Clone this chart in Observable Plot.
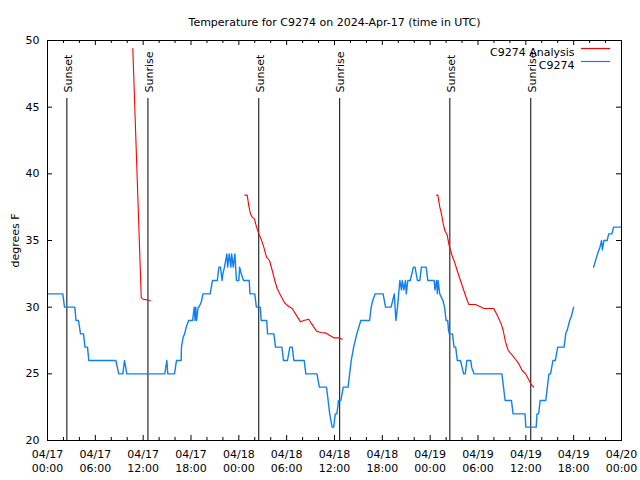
<!DOCTYPE html>
<html>
<head>
<meta charset="utf-8">
<script src="https://cdn.jsdelivr.net/npm/d3@7"></script>
<script src="https://cdn.jsdelivr.net/npm/@observablehq/plot@0.6"></script>
<style>
  html, body { margin: 0; padding: 0; background: #fff; }
</style>
</head>
<body>
<div id="chart"></div>
<script>
const titleText = "Temperature for C9274 on 2024-Apr-17 (time in UTC)";
const yLabel = "degrees F";
const seriesNames = ["C9274 Analysis", "C9274"];
const seriesColors = ["#ff0000", "#1080f0"];

// hours since 2024-04-17 00:00 UTC
const startUTC = Date.UTC(2024, 3, 17, 0, 0);
const endHours = 72;
const majorTickHours = [0, 6, 12, 18, 24, 30, 36, 42, 48, 54, 60, 66, 72];
const minorTickHours = [2, 4, 8, 10, 14, 16, 20, 22, 26, 28, 32, 34, 38, 40, 44, 46, 50, 52, 56, 58, 62, 64, 68, 70];
const yTicks = [20, 25, 30, 35, 40, 45, 50];

const sunHours = [2.43, 12.6, 26.5, 36.65, 50.47, 60.62];
const sunLabels = ["Sunset", "Sunrise", "Sunset", "Sunrise", "Sunset", "Sunrise"];

// observations (null = gap)
const obsHours = [0,1.92,2.13,3.42,3.58,3.89,4.14,4.52,4.70,5.02,5.18,8.57,8.94,9.45,9.66,9.95,14.71,14.97,15.09,15.93,16.18,16.77,16.8,17.0,17.2,17.4,17.7,18.2,18.4,18.5,18.6,18.7,18.9,19.0,19.3,19.5,20.4,20.7,21.3,21.5,21.7,21.9,22.0,22.2,22.5,22.6,22.8,23.0,23.1,23.3,23.5,23.7,24.0,24.1,24.3,24.6,25.3,25.4,26.0,26.2,26.7,26.8,27.5,27.6,28.4,28.6,29.4,29.6,30.1,30.4,30.7,30.9,32.2,32.4,33.8,34.1,35.0,35.2,35.4,35.7,35.9,36.1,36.3,36.5,36.8,37.1,37.7,37.9,38.1,38.4,38.8,39.3,40.4,40.6,40.8,41.1,42.1,42.4,43.1,43.3,43.5,43.7,43.9,44.2,44.4,44.5,44.7,44.9,45.0,45.2,45.5,45.9,46.1,46.4,46.7,46.9,47.5,47.7,48.5,48.6,48.8,48.9,49.0,49.2,49.6,49.8,50.0,50.2,50.3,50.4,50.8,51.0,51.2,51.4,51.8,52.0,52.2,52.4,52.6,53.1,53.2,53.5,57.0,57.2,57.4,58.2,58.4,59.9,60.0,61.3,61.4,61.6,61.8,62.5,62.7,62.9,63.1,63.4,63.7,64.0,64.8,65.0,65.2,65.5,65.7,66.0,null,68.5,69.0,69.3,69.5,69.6,69.8,70.2,70.4,70.8,71.0,72];
const obsTemps = [31,31,30,30,29,29,28,28,27,27,26,26,25,25,26,25,25,26,25,25,26,26,27,27.7,28,28.5,29,29,30,29,30,29,30,30,30.4,31,31,32,32,33,33,32,32.5,33,34,33,34,33,34,33,34,32,32,33,32.5,32,32,31,31,30,30,29,29,28,28,27,27,26,26,27,27,26,26,25,25,24,24,23,22,21,21,22,22,23,23,24,24,25,26,27,28,29,29,30,30.5,31,31,30,30,30.5,31,29,30,32,31.3,32,31.3,32,31,32,32,33,33,32,32,33,33,32,32,31.3,32,31,32,31,30.5,30,29,29,28.3,28,28,27,27,26,26,25.5,25,25,26,26,25.5,25,25,24,23,23,22,22,21,21,22,22,23,23,24,25,25,26,26,27,27,28,28.3,29,29.3,30,null,33,34,34.5,35,34.3,35,35,35.5,35.5,36,36];

// analysis (null = gap)
const anaHours = [10.7,11.76,12.0,12.9,null,24.75,25.05,25.25,25.46,25.68,25.97,26.22,26.5,26.8,27.13,27.47,27.85,28.19,28.51,28.81,29.23,29.77,30.27,30.69,31.11,31.74,32.15,32.78,33.08,33.74,34.33,34.96,35.37,35.91,36.54,36.97,null,48.8,48.96,49.21,49.42,49.64,49.84,50.14,50.34,50.55,50.84,51.05,51.39,51.8,52.22,52.65,52.85,53.69,54.23,54.73,55.98,56.41,56.91,57.16,57.45,57.79,58.29,58.83,59.12,59.54,59.96,60.37,60.67,61.0];
const anaTemps = [49.4,30.7,30.6,30.5,null,38.4,38.4,37.6,37.0,36.75,36.6,36.0,35.5,35.1,34.5,33.75,33.5,32.75,32.0,31.4,30.9,30.3,30.05,29.9,29.5,28.9,29.0,29.1,28.8,28.2,28.1,28.05,27.9,27.7,27.7,27.6,null,38.4,38.4,37.5,37.0,36.25,35.75,35.4,34.75,34.25,33.7,33.4,32.75,32.0,31.25,30.5,30.2,30.2,30.05,29.9,29.9,29.4,28.75,28.25,27.4,26.75,26.4,26.0,25.75,25.25,25.0,24.55,24.2,24.0];

const toDate = h => (h == null ? null : new Date(startUTC + h * 3600e3));
const obs = obsHours.map((h, i) => ({t: toDate(h), v: obsTemps[i]}));
const ana = anaHours.map((h, i) => ({t: toDate(h), v: anaTemps[i]}));
const sun = sunHours.map((h, i) => ({t: toDate(h), label: sunLabels[i]}));
const majorTicks = majorTickHours.map(toDate);
const minorTicks = minorTickHours.map(toDate);

const fmtDay = d3.utcFormat("%m/%d");
const fmtTime = d3.utcFormat("%H:%M");
const FONT = "DejaVu Sans";

const chart = Plot.plot({
  width: 640,
  height: 480,
  marginLeft: 47,
  marginRight: 19,
  marginTop: 40,
  marginBottom: 40,
  style: {fontFamily: FONT, fontSize: "11px", background: "#fff", color: "#000"},
  x: {type: "utc", domain: [toDate(0), toDate(endHours)], label: null},
  y: {domain: [20, 50], label: null},
  marks: [
    // tick marks (inward, mirrored)
    Plot.ruleX(majorTicks, {x: d => d, insetTop: 395, stroke: "#000"}),
    Plot.ruleX(majorTicks, {x: d => d, insetBottom: 395, stroke: "#000"}),
    Plot.ruleX(minorTicks, {x: d => d, insetTop: 397, stroke: "#000"}),
    Plot.ruleX(minorTicks, {x: d => d, insetBottom: 397, stroke: "#000"}),
    Plot.ruleY(yTicks, {y: d => d, insetRight: 569, stroke: "#000"}),
    Plot.ruleY(yTicks, {y: d => d, insetLeft: 569, stroke: "#000"}),
    Plot.axisX({ticks: majorTicks, tickSize: 0, tickPadding: 7, label: null,
      tickFormat: d => fmtDay(d) + "\n" + fmtTime(d), lineHeight: 1.3,
      fontFamily: FONT, fontSize: 11}),
    Plot.axisY({ticks: yTicks, tickSize: 0, tickPadding: 8, label: yLabel,
      labelAnchor: "center", labelArrow: "none", labelOffset: 36,
      fontFamily: FONT, fontSize: 11}),
    // sunrise / sunset
    Plot.ruleX(sun, {x: "t", insetTop: 58, stroke: "#000"}),
    Plot.text(sun, {x: "t", text: "label", rotate: -90, frameAnchor: "top", dy: 52, dx: -3,
      textAnchor: "start", fontFamily: FONT, fontSize: 11, fill: "#000"}),
    // data
    Plot.line(ana, {x: "t", y: "v", stroke: seriesColors[0], strokeWidth: 1.1}),
    Plot.line(obs, {x: "t", y: "v", stroke: seriesColors[1], strokeWidth: 1.4}),
    // legend
    Plot.text([seriesNames[0]], {text: d => d, frameAnchor: "top-right", dx: -47, dy: 8,
      textAnchor: "end", fontFamily: FONT, fontSize: 11, fill: "#000"}),
    Plot.text([seriesNames[1]], {text: d => d, frameAnchor: "top-right", dx: -47, dy: 21,
      textAnchor: "end", fontFamily: FONT, fontSize: 11, fill: "#000"}),
    Plot.frame({anchor: "top", stroke: seriesColors[0], strokeWidth: 1.2, insetTop: 8, insetLeft: 534, insetRight: 12}),
    Plot.frame({anchor: "top", stroke: seriesColors[1], strokeWidth: 1.2, insetTop: 21, insetLeft: 534, insetRight: 12}),
    // title
    Plot.text([titleText], {text: d => d, frameAnchor: "top", dy: -22,
      fontFamily: FONT, fontSize: 11, fill: "#000"}),
    Plot.frame({stroke: "#000"})
  ]
});
document.getElementById("chart").appendChild(chart);
</script>
</body>
</html>
